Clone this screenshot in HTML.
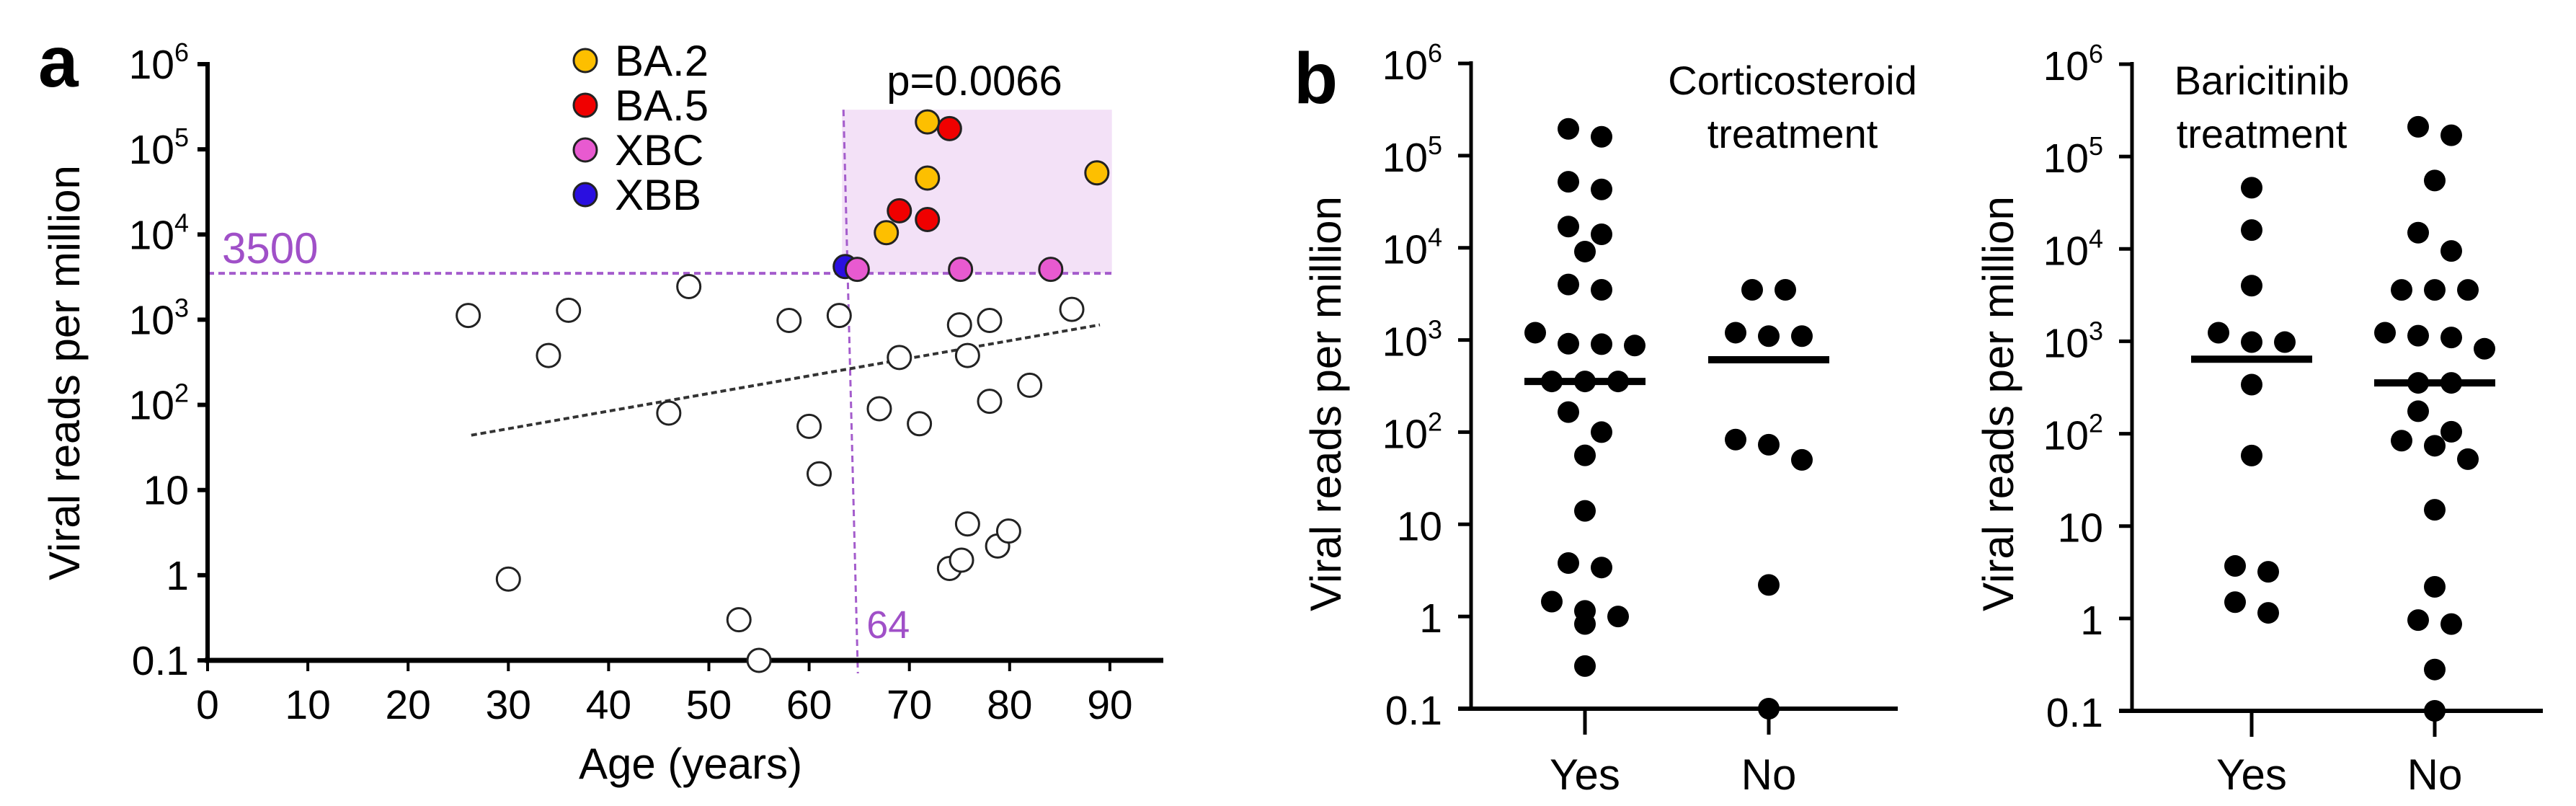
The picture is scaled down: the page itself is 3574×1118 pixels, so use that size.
<!DOCTYPE html>
<html><head><meta charset="utf-8">
<style>
html,body{margin:0;padding:0;background:#fff;}
svg{display:block;font-family:"Liberation Sans",Arial,sans-serif;}
</style></head>
<body>
<svg id="fig" width="3574" height="1118" viewBox="0 0 3574 1118" xmlns="http://www.w3.org/2000/svg">
  <text x="53" y="120" font-size="100" font-weight="bold">a</text>
  <text x="1795" y="143" font-size="100" font-weight="bold">b</text>
  <g id="pa"></g>
  <g id="pb1"></g>
  <g id="pb2"></g>
</svg>
<script>
// ---------- Panel a data ----------
const openAges = [26,30,34,36,46,48,53,55,58,60,61,63,67,69,71,74,75.2,75,75.8,75.8,78,78,78.8,79.9,82,86.2];
const openVals = [1120,0.9,380,1290,80,2450,0.3,0.1,980,56,15.5,1120,90,360,60,1.2,1.5,870,4,380,980,110,2.2,3.3,170,1320];
const ba2Ages = [71.8,71.8,67.7,88.7];
const ba2Vals = [210000,46000,10500,53000];
const ba5Ages = [74,69,71.8];
const ba5Vals = [175000,19000,15000];
const xbcAges = [64.8,75.1,84.1];
const xbcVals = [3900,3900,3900];
const xbbAges = [63.6];
const xbbVals = [4200];
const trendAges = [26.3,89];
const trendVals = [44,870];
const xTicks = [0,10,20,30,40,50,60,70,80,90];
const yTickExp = [6,5,4,3,2,1,0,-1];
const thresholdVal = 3500;
const thresholdAge = 64;
const boxTopVal = 292000;
const boxRightAge = 90.2;
// ---------- Panel b data ----------
const cortYes = [195000,160000,52000,43000,14000,17000,9100,4000,3500,1200,870,900,910,355,355,355,165,100,56,14,3.4,3.8,1.0,1.15,1.45,0.83,0.29];
const cortNo = [3500,3500,1100,1200,1100,83,73,50,2.2,0.1];
const cortMedians = [355,610];
const bariYes = [46000,16000,4000,980,1240,980,340,58,3.2,3.7,1.15,1.5];
const bariNo = [210000,170000,55000,15000,9500,3600,3600,3600,1150,1240,1100,830,355,355,175,105,74,84,53,15,2.2,0.87,0.96,0.28,0.1];
const bariMedians = [640,355];
const catLabels = ["Yes","No"];

const NS="http://www.w3.org/2000/svg";
function mk(parent,tag,attrs,name,text){
  const e=document.createElementNS(NS,tag);
  for(const k in attrs) e.setAttribute(k,attrs[k]);
  
  
  if(text!==undefined) e.textContent=text;
  parent.appendChild(e);return e;
}
function tickLabel(g,x,y,exp,name){
  const t=mk(g,'text',{x:x,y:y,'font-size':57,'text-anchor':'end'},name);
  if(exp===-1){t.textContent='0.1';}
  else if(exp===0){t.textContent='1';}
  else if(exp===1){t.textContent='10';}
  else{
    t.appendChild(document.createTextNode('10'));
    const s=document.createElementNS(NS,'tspan');
    s.setAttribute('font-size','36');s.setAttribute('dy','-24');
    s.textContent=String(exp);t.appendChild(s);
  }
}

// ---------- Panel a ----------
(function(){
  const g=document.getElementById('pa');
  const X0=288, PX=13.91, YTOP=89, YBOT=916;
  const dec=(YBOT-YTOP)/7;
  const xs=a=>X0+a*PX;
  const ys=v=>YTOP+(6-Math.log10(v))*dec;
  mk(g,'rect',{x:xs(thresholdAge)-10,y:ys(boxTopVal),width:xs(boxRightAge)-xs(thresholdAge)+10,height:ys(thresholdVal)-ys(boxTopVal),fill:'#f3e1f7'},'high-load-region');
  mk(g,'line',{x1:X0,y1:ys(thresholdVal),x2:xs(boxRightAge),y2:ys(thresholdVal),stroke:'#a45ccc','stroke-width':4,'stroke-dasharray':'9,6'},'threshold-line-horizontal');
  mk(g,'line',{x1:xs(thresholdAge)-8,y1:ys(boxTopVal),x2:xs(thresholdAge)+12,y2:YBOT+18,stroke:'#a45ccc','stroke-width':3,'stroke-dasharray':'9,6'},'threshold-line-vertical');
  mk(g,'text',{x:X0+20,y:ys(thresholdVal)-14,'font-size':60,fill:'#a050c8'},'threshold-value-label','3500');
  mk(g,'text',{x:xs(thresholdAge)+24,y:885,'font-size':54,fill:'#a050c8'},'threshold-age-label','64');
  mk(g,'line',{x1:xs(trendAges[0]),y1:ys(trendVals[0]),x2:xs(trendAges[1]),y2:ys(trendVals[1]),stroke:'#333','stroke-width':4,'stroke-dasharray':'8,5'},'trend-line');
  mk(g,'line',{x1:X0,y1:YTOP-3,x2:X0,y2:YBOT+3,stroke:'#000','stroke-width':6},'y-axis');
  mk(g,'line',{x1:X0-4,y1:YBOT,x2:1614,y2:YBOT,stroke:'#000','stroke-width':7},'x-axis');
  yTickExp.forEach(e=>{
    const y=ys(Math.pow(10,e));
    mk(g,'line',{x1:X0-14,y1:y,x2:X0,y2:y,stroke:'#000','stroke-width':6},'y-tick');
    tickLabel(g,X0-26,y+20,e,'y-tick-label');
  });
  xTicks.forEach(t=>{
    mk(g,'line',{x1:xs(t),y1:YBOT,x2:xs(t),y2:YBOT+15,stroke:'#000','stroke-width':4},'x-tick');
    mk(g,'text',{x:xs(t),y:997,'font-size':57,'text-anchor':'middle'},'x-tick-label',String(t));
  });
  mk(g,'text',{x:958,y:1080,'font-size':60,'text-anchor':'middle'},'x-axis-title','Age (years)');
  mk(g,'text',{x:0,y:0,'font-size':60,'text-anchor':'middle',transform:'translate(110,517) rotate(-90)'},'y-axis-title','Viral reads per million');
  mk(g,'text',{x:1352,y:132,'font-size':58,'text-anchor':'middle'},'p-value-label','p=0.0066');
  const R=16;
  openAges.forEach((a,i)=>mk(g,'circle',{cx:xs(a),cy:ys(openVals[i]),r:R,fill:'#fff',stroke:'#222','stroke-width':3},'point-other'));
  const groups=[[xbbAges,xbbVals,'#2a0fe0','point-xbb'],[xbcAges,xbcVals,'#e85ad0','point-xbc'],[ba2Ages,ba2Vals,'#fdbf00','point-ba2'],[ba5Ages,ba5Vals,'#f00000','point-ba5']];
  groups.forEach(([A,V,c,n])=>A.forEach((a,i)=>mk(g,'circle',{cx:xs(a),cy:ys(V[i]),r:R,fill:c,stroke:'#222','stroke-width':3},n)));
  const leg=[['BA.2','#fdbf00'],['BA.5','#f00000'],['XBC','#e85ad0'],['XBB','#2a0fe0']];
  leg.forEach((l,i)=>{
    const y=84+i*62;
    const lg=mk(g,'g',{},'legend-entry');
    mk(lg,'circle',{cx:812,cy:y,r:16,fill:l[1],stroke:'#222','stroke-width':3},'legend-marker');
    mk(lg,'text',{x:853,y:y+21,'font-size':60},'legend-label',l[0]);
  });
})();

// ---------- Panel b ----------
function swarm(vals,cx,ys,g,name){
  const sorted=vals.map(v=>({v:v,y:ys(v)})).sort((a,b)=>a.y-b.y);
  const bins=[];
  sorted.forEach(p=>{
    const last=bins[bins.length-1];
    if(last && p.y-last[0].y<30) last.push(p); else bins.push([p]);
  });
  const D=46;
  bins.forEach(b=>{
    const n=b.length;
    b.forEach((p,i)=>{
      const off=(i-(n-1)/2)*D;
      mk(g,'circle',{cx:cx+off,cy:p.y,r:15,fill:'#000'},name);
    });
  });
}
function panelB(id,AX,YTOP,YBOT,xEnd,cats,data,meds,title,tx,titleX){
  const g=document.getElementById(id);
  const dec=(YBOT-YTOP)/7;
  const ys=v=>YTOP+(6-Math.log10(v))*dec;
  mk(g,'line',{x1:AX,y1:YTOP-3,x2:AX,y2:YBOT+3,stroke:'#000','stroke-width':5},'y-axis');
  mk(g,'line',{x1:AX-18,y1:YBOT,x2:xEnd,y2:YBOT,stroke:'#000','stroke-width':6},'x-axis');
  yTickExp.forEach(e=>{
    const y=ys(Math.pow(10,e));
    mk(g,'line',{x1:AX-18,y1:y,x2:AX,y2:y,stroke:'#000','stroke-width':5},'y-tick');
    tickLabel(g,AX-40,y+22,e,'y-tick-label');
  });
  cats.forEach((cx,i)=>{
    mk(g,'line',{x1:cx,y1:YBOT,x2:cx,y2:YBOT+36,stroke:'#000','stroke-width':5},'x-tick');
    mk(g,'text',{x:cx,y:1095,'font-size':60,'text-anchor':'middle'},'x-tick-label',catLabels[i]);
    swarm(data[i],cx,ys,g,'point-'+catLabels[i].toLowerCase());
    mk(g,'line',{x1:cx-84,y1:ys(meds[i]),x2:cx+84,y2:ys(meds[i]),stroke:'#000','stroke-width':10},'median-line-'+catLabels[i].toLowerCase());
  });
  mk(g,'text',{x:titleX,y:131,'font-size':56,'text-anchor':'middle'},'treatment-title-line1',title);
  mk(g,'text',{x:titleX,y:205,'font-size':56,'text-anchor':'middle'},'treatment-title-line2','treatment');
  mk(g,'text',{x:0,y:0,'font-size':60,'text-anchor':'middle',transform:'translate('+tx+',560) rotate(-90)'},'y-axis-title','Viral reads per million');
}
panelB('pb1',2041,88,983,2633,[2199,2454],[cortYes,cortNo],cortMedians,'Corticosteroid',1860,2487);
panelB('pb2',2958,89,986,3528,[3124,3378],[bariYes,bariNo],bariMedians,'Baricitinib',2793,3138);
</script>
</body></html>
